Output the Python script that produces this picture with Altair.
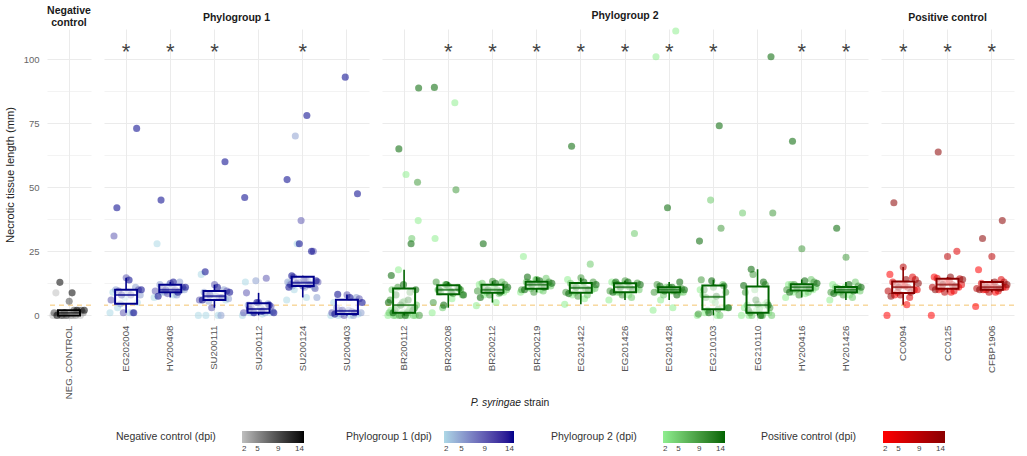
import altair as alt
import pandas as pd

DPI_LEVELS = [2, 5, 9, 14]

# Strains in each group, in plotting order
NEGATIVE = ["NEG. CONTROL"]
PHYLO1 = ["EG202004", "HV200408", "SU200111", "SU200112", "SU200124", "SU200403"]
PHYLO2 = ["BR200112", "BR200208", "BR200212", "BR200219", "EG201422", "EG201426",
          "EG201428", "EG210103", "EG210110", "HV200416", "HV201426"]
POSITIVE = ["CC0094", "CC0125", "CFBP1906"]

# Strains significantly different from the negative control
SIGNIFICANT = ["EG202004", "HV200408", "SU200111", "SU200124",
               "BR200208", "BR200212", "BR200219", "EG201422", "EG201426", "EG201428",
               "EG210103", "HV200416", "HV201426", "CC0094", "CC0125", "CFBP1906"]

THRESHOLD = 4  # detection threshold (mm)

# Necrotic tissue length (mm) per strain, keyed by days post inoculation
NEG_CONTROL = {2: [0, 0, 0, 0, 0, 8.8], 5: [0, 0, 1, 0, 1, 2], 9: [0, 1, 2, 0, 2, 5.5], 14: [0, 2, 1, 2, 8.8, 12.9]}

EG202004 = {2: [1, 1, 3, 5, 7, 9], 5: [1, 4.5, 8, 9, 10, 11], 9: [1, 6, 8, 9.5, 10, 14.7, 31], 14: [1, 8, 10, 13.8, 42, 73]}
HV200408 = {2: [7, 8, 9, 10, 12, 28], 5: [8, 9, 10, 11, 12, 13], 9: [8.5, 9.5, 10, 10.5, 11, 12.5], 14: [7.5, 9, 10, 11, 13, 45]}
SU200111 = {2: [0, 0, 0, 6, 8, 16], 5: [0, 5.5, 6.5, 7.5, 9, 10], 9: [3, 6, 7, 8, 9.5, 12], 14: [6, 7, 8, 9, 11, 17, 60]}
SU200112 = {2: [0, 0.5, 1, 1, 2, 13], 5: [1, 1, 1.5, 3, 4, 4.5, 13.5], 9: [1, 2, 3, 3.5, 5, 8.8, 14.5], 14: [1, 1, 1.5, 2.5, 4, 5, 46]}
SU200124 = {2: [6, 7, 10, 11, 12, 12.5, 13, 28], 5: [7, 11, 11.5, 12, 12.5, 13, 13.5, 70],
            9: [10.5, 11.5, 12, 12, 13, 13, 14, 15, 25, 37], 14: [11, 12, 12.5, 13.5, 14, 15.5, 25, 28, 53, 78]}
SU200403 = {2: [0, 0, 0, 0.5, 1, 5], 5: [0, 0.5, 1, 2, 3, 7], 9: [0, 1, 1.5, 2, 6.5, 8], 14: [0.5, 1, 2, 5, 7, 8.2, 47.5, 93]}

BR200112 = {2: [0, 0, 0, 0, 1, 2, 3, 17.8, 37, 55], 5: [0, 0, 0, 1, 2, 3, 4, 5.5, 10, 30],
            9: [0, 0, 1, 2, 3, 5, 6, 9, 11, 52], 14: [0, 1, 2, 4, 5, 6, 8, 10, 12, 15.6, 28, 65, 88.8]}
BR200208 = {2: [1, 6.5, 9, 10, 11, 30, 83], 5: [3, 8, 9.5, 10, 11, 12], 9: [5, 8.5, 9.5, 10, 11.5, 13, 49], 14: [4, 8, 9, 10, 10.5, 12, 89]}
BR200212 = {2: [3.8, 5, 8, 9, 11, 12], 5: [8.5, 9, 10, 11, 12.5, 13], 9: [8, 9.5, 10, 10.5, 12, 13.3], 14: [7, 9, 10, 11, 12.5, 28]}
BR200219 = {2: [9, 10, 11, 12, 14, 23], 5: [9.5, 10.5, 11.5, 12, 13, 14.5], 9: [9, 10, 11.5, 12.5, 13, 14], 14: [10, 11, 12, 12.5, 13.5, 15]}
EG201422 = {2: [4.3, 6.5, 8, 10, 12, 14], 5: [8, 9, 10.5, 11, 12.5, 20], 9: [7.5, 9, 10.5, 11.5, 13, 14.7], 14: [8.5, 10, 11, 12, 13, 66]}
EG201426 = {2: [6, 8, 9, 10.5, 12, 13], 5: [7, 9, 10, 11.5, 12.5, 32], 9: [8, 9.5, 11, 12, 12.6, 13.5], 14: [9, 10, 11, 12, 13, 13]}
EG201428 = {2: [2, 3, 6, 9, 10, 101, 111], 5: [8, 9, 9.5, 10, 10.5, 11], 9: [9, 9.5, 10, 10.5, 11, 12], 14: [8, 9.5, 10, 11, 11.5, 13, 42]}
EG210103 = {2: [0, 0, 1, 3, 6, 10], 5: [0, 2, 3, 5, 8, 12, 45], 9: [0.5, 2.5, 7, 9, 11, 13.9, 34], 14: [1, 3, 7.5, 10, 11.5, 13.5, 29, 74]}
EG210110 = {2: [0, 0, 0, 1, 2, 3, 4], 5: [0, 0, 2.5, 4, 5, 10, 40], 9: [0, 1, 3, 4.3, 9, 12, 16, 40], 14: [0, 2, 4, 6, 11.7, 13, 18, 101]}
HV200416 = {2: [7, 8.5, 9, 10, 11, 12], 5: [9, 10, 11, 11.5, 12, 14], 9: [8, 10, 11, 12, 13, 26], 14: [9, 10.5, 11, 12.5, 13.5, 68]}
HV201426 = {2: [6, 8, 9, 10, 11, 12], 5: [7, 9, 9.5, 10, 11, 13], 9: [8, 9, 10, 10.5, 11.5, 22.7], 14: [8.5, 9.5, 10, 11, 12, 34]}

CC0094 = {2: [0, 4.2, 8, 10, 12, 16], 5: [7, 9, 10, 11.5, 13, 15], 9: [8, 9.5, 11, 12, 14, 18.9], 14: [7.5, 9, 11, 12.5, 14, 44]}
CC0125 = {2: [0, 9, 10, 11, 13, 15], 5: [9.5, 10.5, 12, 13.5, 14.5, 25], 9: [9, 11, 12, 13, 14.3, 23], 14: [10, 11.5, 12, 14, 15, 63.8]}
CFBP1906 = {2: [3.5, 9, 10, 11, 12, 17.8], 5: [9.5, 10, 11, 11.5, 12.5, 14], 9: [9, 10.5, 11, 12, 13, 23], 14: [10, 10.5, 11, 12, 13, 30, 37]}

MEASUREMENTS = {
    "NEG. CONTROL": NEG_CONTROL,
    "EG202004": EG202004, "HV200408": HV200408, "SU200111": SU200111,
    "SU200112": SU200112, "SU200124": SU200124, "SU200403": SU200403,
    "BR200112": BR200112, "BR200208": BR200208, "BR200212": BR200212, "BR200219": BR200219,
    "EG201422": EG201422, "EG201426": EG201426, "EG201428": EG201428, "EG210103": EG210103,
    "EG210110": EG210110, "HV200416": HV200416, "HV201426": HV201426,
    "CC0094": CC0094, "CC0125": CC0125, "CFBP1906": CFBP1906,
}

FONT = "Liberation Sans"
STEP = 44.2          # width of one strain column
Y_DOMAIN = [-1.8, 111.8]
GRID_VALUES = [0, 12.5, 25, 37.5, 50, 62.5, 75, 87.5, 100]


def strain_rows(strain):
    """One row per measurement, with a spread-out horizontal jitter."""
    rows = []
    i = 0
    for dpi in DPI_LEVELS:
        for v in MEASUREMENTS[strain][dpi]:
            jitter = ((i * 0.6180339887) % 1.0) * 2 - 1
            rows.append({"strain": strain, "dpi": dpi, "length": v, "jitter": jitter})
            i += 1
    return rows


def panel(strains, title, title_offset, low, high, dark, legend_title, legend_x,
          legend_pad, legend_len, first=False, x_title=False):
    data = pd.DataFrame([r for s in strains for r in strain_rows(s)])
    width = round(len(strains) * STEP)

    x_axis = alt.Axis(labelAngle=270, labelFontSize=9.7, labelColor="#555555", labelPadding=5,
                      ticks=False, domain=False, title=None, grid=True,
                      gridColor="#ebebeb", gridWidth=1)
    x = alt.X("strain:N", scale=alt.Scale(domain=strains, paddingInner=0, paddingOuter=0),
              axis=x_axis)

    grid_width = {"condition": {"test": "datum.value % 25 === 0", "value": 1}, "value": 0.6}
    if first:
        y_axis = alt.Axis(values=GRID_VALUES, labelExpr="datum.value % 25 === 0 ? datum.label : ''",
                          title="Necrotic tissue length (mm)", titleFontSize=11.2,
                          titleFontWeight="normal", titleColor="#222222", titlePadding=8,
                          labelFontSize=9.5, labelColor="#666666", labelPadding=8,
                          ticks=False, domain=False, gridColor="#ebebeb", gridWidth=grid_width)
    else:
        y_axis = alt.Axis(values=GRID_VALUES, labels=False, title=None, ticks=False,
                          domain=False, gridColor="#ebebeb", gridWidth=grid_width)
    y = alt.Y("length:Q", scale=alt.Scale(domain=Y_DOMAIN, nice=False, zero=False), axis=y_axis)

    legend = alt.Legend(title=legend_title, orient="none", legendX=legend_x, legendY=402,
                        direction="horizontal", titleOrient="left", gradientLength=legend_len,
                        gradientThickness=12, values=DPI_LEVELS, labelFontSize=8,
                        labelColor="#444444", titleFontSize=10.5, titleFontWeight="normal",
                        titleColor="#333333", titlePadding=legend_pad, gradientStrokeWidth=0)

    points = alt.Chart(data).mark_circle(size=50, opacity=1, fillOpacity=0.55).encode(
        x=x,
        xOffset=alt.XOffset("jitter:Q", scale=alt.Scale(domain=[-1, 1], range=[6, 38])),
        y=y,
        color=alt.Color("dpi:Q", scale=alt.Scale(domain=[2, 14], range=[low, high],
                                                 interpolate="lab"), legend=legend),
    )

    boxes = alt.Chart(data).mark_boxplot(
        extent=1.5, outliers=False, ticks=False, size=22, color=dark,
        box={"fill": "white", "fillOpacity": 0.55, "stroke": dark, "strokeWidth": 2},
        median={"color": dark, "thickness": 2},
        rule={"stroke": dark, "strokeWidth": 1.6},
    ).encode(x=x, y=y)

    threshold = alt.Chart(pd.DataFrame({"length": [THRESHOLD]})).mark_rule(
        strokeDash=[5, 4], color="#f4c46e", strokeWidth=1
    ).encode(y=y)

    stars = [s for s in strains if s in SIGNIFICANT]
    layers = [threshold, points, boxes]
    if stars:
        star_df = pd.DataFrame({"strain": stars, "length": [104.5] * len(stars), "mark": ["*"] * len(stars)})
        layers.append(alt.Chart(star_df).mark_text(fontSize=22, color="#444444", dy=4,
                                                   baseline="middle").encode(x=x, y=y, text="mark:N"))
    if x_title:
        layers.append(alt.Chart(pd.DataFrame({"t": ["P. syringae"]})).mark_text(
            fontSize=10.3, fontStyle="italic", align="right", baseline="middle", color="#222222"
        ).encode(text="t:N", x=alt.value(139), y=alt.value(374)))
        layers.append(alt.Chart(pd.DataFrame({"t": ["strain"]})).mark_text(
            fontSize=10.3, align="left", baseline="middle", color="#222222"
        ).encode(text="t:N", x=alt.value(142), y=alt.value(374)))

    return alt.layer(*layers).properties(
        width=width, height=291,
        title=alt.TitleParams(title, fontSize=10.5, fontWeight="bold", color="#1a1a1a",
                              offset=title_offset, anchor="middle", lineHeight=12),
    )


neg = panel(NEGATIVE, ["Negative", "control"], 1, "#bfbfbf", "#000000", "#000000",
            "Negative control (dpi)", 69, 26, 62, first=True)
p1 = panel(PHYLO1, "Phylogroup 1", 6, "#add8e6", "#00008b", "#00008b",
           "Phylogroup 1 (dpi)", 242, 12, 70)
p2 = panel(PHYLO2, "Phylogroup 2", 6, "#90ee90", "#006400", "#006400",
           "Phylogroup 2 (dpi)", 169, 26, 62, x_title=True)
pos = panel(POSITIVE, "Positive control", 6, "#ff0000", "#8b0000", "#8b0000",
            "Positive control (dpi)", -120, 26, 62)

chart = alt.hconcat(neg, p1, p2, pos, spacing=13, bounds="flush").resolve_scale(
    color="independent", x="independent", y="shared"
).properties(
    padding={"left": 4, "top": 5, "right": 5, "bottom": 0}
).configure(font=FONT).configure_view(stroke=None)

chart.save("out.html", embed_options={"renderer": "svg", "actions": False})
